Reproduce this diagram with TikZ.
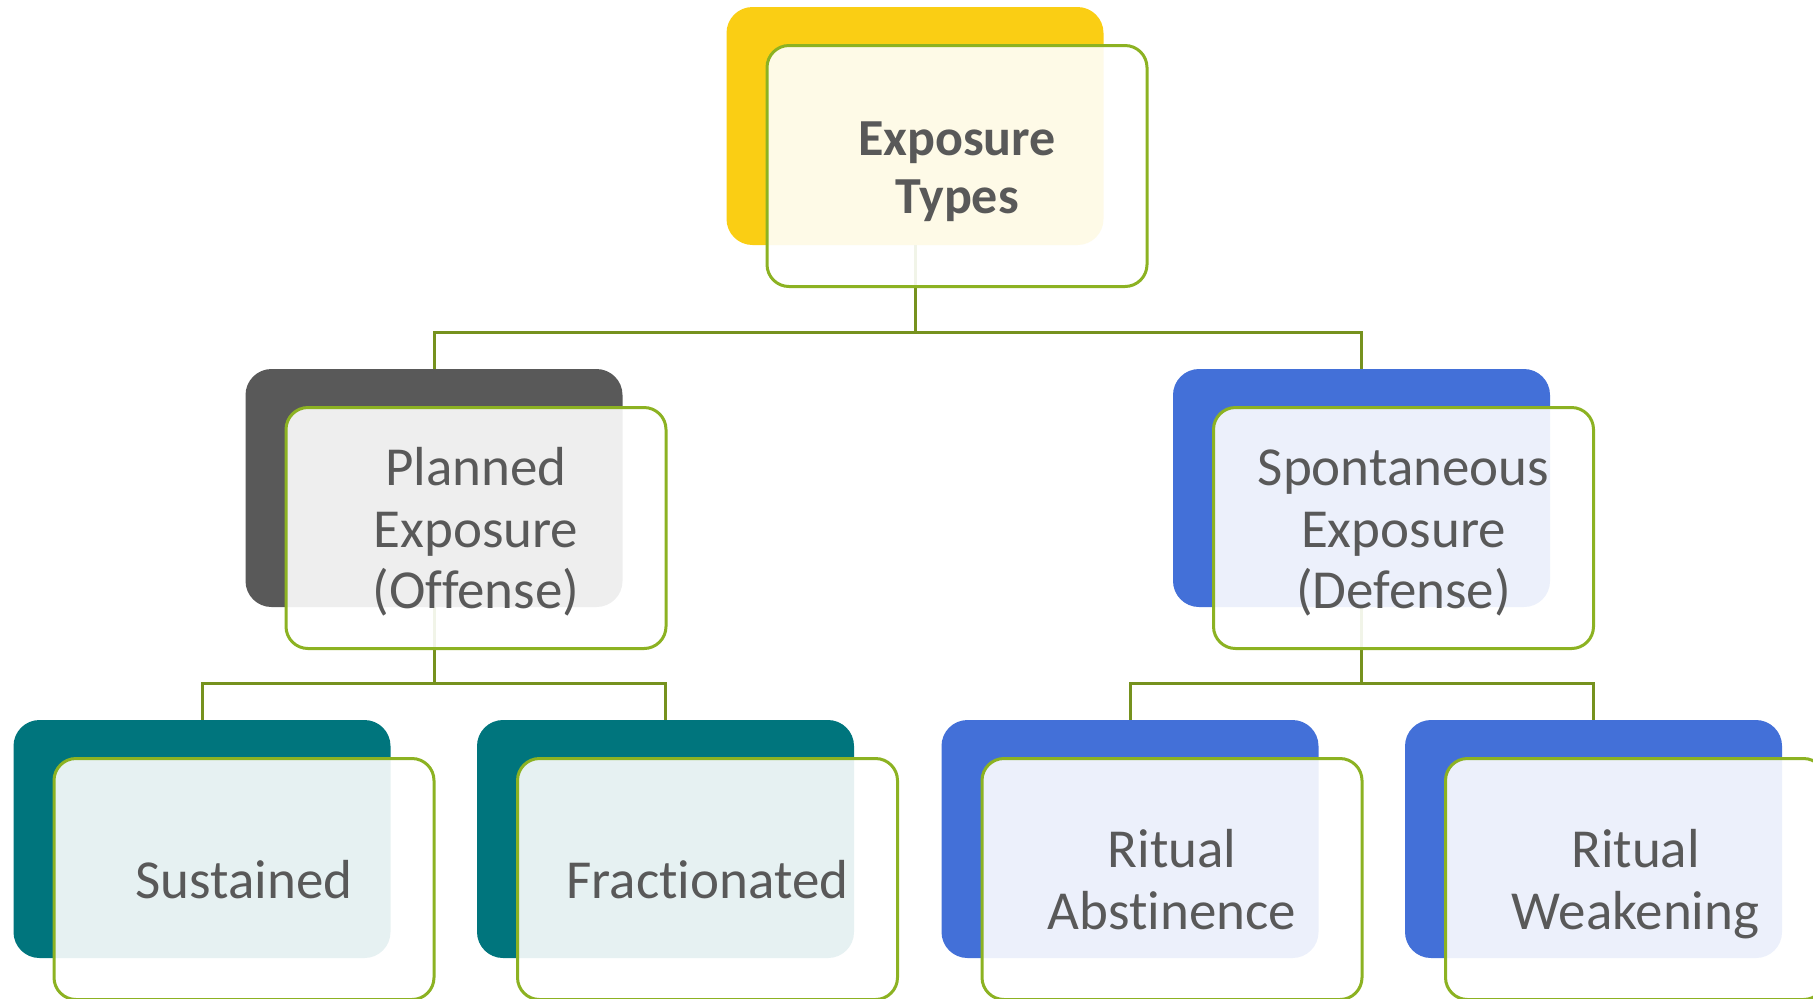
\documentclass[tikz,border=0pt]{standalone}
\usepackage{fontspec}
\setmainfont{Carlito}[Ligatures=NoCommon]
\definecolor{cyellow}{RGB}{250,206,20}
\definecolor{cgray}{RGB}{89,89,89}
\definecolor{cteal}{RGB}{0,117,125}
\definecolor{cblue}{RGB}{67,112,216}
\definecolor{cgreen}{RGB}{140,178,34}
\definecolor{cconn}{RGB}{118,146,30}
\definecolor{ctext}{RGB}{89,89,89}
\newcommand{\topstrut}{\rule{0pt}{\dimexpr0.7\baselineskip+7pt\relax}}
\begin{document}
\begin{tikzpicture}[x=0.5pt,y=-0.5pt,
 back/.style={rectangle,rounded corners=13pt,minimum width=188.5pt,minimum height=119pt,inner sep=0pt},
 front/.style={rectangle,rounded corners=11pt,draw=cgreen,line width=1.5pt,fill=white,fill opacity=0.9,text opacity=1,minimum width=190pt,minimum height=120.5pt,inner sep=0pt,align=center,text=ctext,font=\fontsize{27.5}{30.75}\selectfont,execute at end node=\strut},
 conn/.style={draw=cconn,line width=1.5pt}]
\clip (0,0) rectangle (1813,998);
% back shapes
\node[back,fill=cyellow] (rootbg) at (915,126) {};
\node[back,fill=cgray] (planbg) at (434,488) {};
\node[back,fill=cblue] (spontbg) at (1361.5,488) {};
\node[back,fill=cteal] (sustbg) at (202,839) {};
\node[back,fill=cteal] (fracbg) at (665.5,839) {};
\node[back,fill=cblue] (rabbg) at (1130,839) {};
\node[back,fill=cblue] (rwkbg) at (1593.5,839) {};
% connectors
\draw[conn] (rootbg.south) -- ++(0,87) -| (planbg.north);
\draw[conn] (rootbg.south) -- ++(0,87) -| (spontbg.north);
\draw[conn] (planbg.south) -- ++(0,76) -| (sustbg.north);
\draw[conn] (planbg.south) -- ++(0,76) -| (fracbg.north);
\draw[conn] (spontbg.south) -- ++(0,76) -| (rabbg.north);
\draw[conn] (spontbg.south) -- ++(0,76) -| (rwkbg.north);
% front shapes with text
\node[front,font=\fontsize{26}{29}\selectfont\bfseries] (root) at (957,166) {\topstrut Exposure\\Types};
\node[front] (plan) at (476,528) {\topstrut Planned\\Exposure\\(Offense)};
\node[front] (spont) at (1403.5,528) {\topstrut Spontaneous\\Exposure\\(Defense)};
\node[front] (sust) at (244,879) {\topstrut Sustained};
\node[front] (frac) at (707.5,879) {\topstrut Fractionated};
\node[front] (rab) at (1172,879) {\topstrut Ritual\\Abstinence};
\node[front] (rwk) at (1635.5,879) {\topstrut Ritual\\Weakening};
\end{tikzpicture}
\end{document}
